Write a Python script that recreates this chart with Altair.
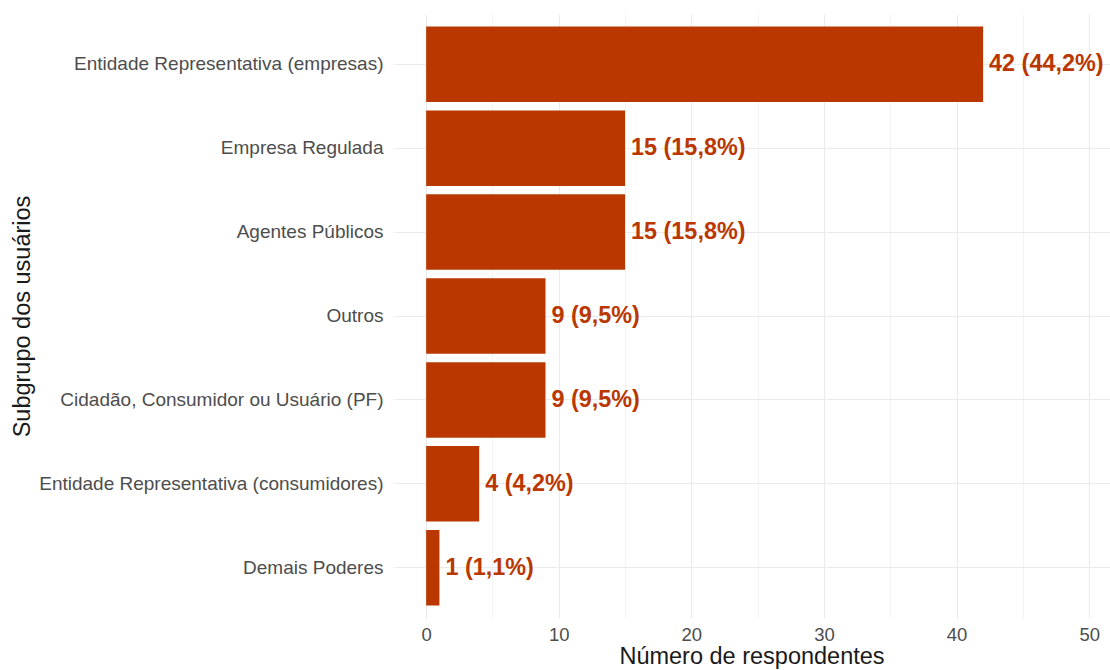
import altair as alt
import pandas as pd

# Respondents per user subgroup
subgroups = [
    "Entidade Representativa (empresas)",
    "Empresa Regulada",
    "Agentes Públicos",
    "Outros",
    "Cidadão, Consumidor ou Usuário (PF)",
    "Entidade Representativa (consumidores)",
    "Demais Poderes",
]
counts = [42, 15, 15, 9, 9, 4, 1]
shares = ["44,2%", "15,8%", "15,8%", "9,5%", "9,5%", "4,2%", "1,1%"]

df = pd.DataFrame({"subgrupo": subgroups, "n": counts, "pct": shares})
df["rotulo"] = df["n"].astype(str) + " (" + df["pct"] + ")"

BAR = "#BA3700"
FONT = "Liberation Sans"

x_enc = alt.X(
    "n:Q",
    title="Número de respondentes",
    scale=alt.Scale(domain=[-2.5, 51.57], nice=False, zero=False),
    axis=alt.Axis(
        values=[0, 5, 10, 15, 20, 25, 30, 35, 40, 45, 50],
        labelExpr="datum.value % 10 == 0 ? datum.label : ''",
        gridWidth={"condition": {"test": "datum.value % 10 != 0", "value": 0.6}, "value": 1.1},
        gridColor="#EBEBEB",
        ticks=False,
        domain=False,
        labelFontSize=18.5,
        labelColor="#4D4D4D",
        labelPadding=7,
        titleFontSize=23.5,
        titleFontWeight="normal",
        titleColor="#1A1A1A",
        titlePadding=1,
    ),
)
y_enc = alt.Y(
    "subgrupo:N",
    sort=subgroups,
    title="Subgrupo dos usuários",
    scale=alt.Scale(paddingInner=0.1, paddingOuter=0.15),
    axis=alt.Axis(
        ticks=False,
        domain=False,
        grid=True,
        bandPosition=0.5,
        gridColor="#EBEBEB",
        gridWidth=1.1,
        labelFontSize=19,
        labelColor="#4D4D4D",
        labelPadding=10,
        labelLimit=400,
        titleFontSize=23.5,
        titleFontWeight="normal",
        titleColor="#1A1A1A",
        titleAngle=270,
        titleAlign="center",
        titleBaseline="middle",
        titleX=-371,
        titleY=302,
    ),
)

bars = alt.Chart(df).mark_bar(color=BAR).encode(x=x_enc, y=y_enc, x2=alt.datum(0))

labels = alt.Chart(df).mark_text(
    align="left", baseline="middle", dx=6, fontSize=23.4, fontWeight="bold", color=BAR, font=FONT
).encode(x=alt.X("n:Q"), y=alt.Y("subgrupo:N", sort=subgroups), text="rotulo:N")

chart = (
    alt.layer(bars, labels)
    .properties(
        width=717,
        height=604,
        autosize=alt.AutoSizeParams(type="none"),
        padding={"left": 393, "top": 14, "right": 0, "bottom": 52},
    )
    .configure(font=FONT)
    .configure_view(stroke=None)
)

chart.save("out.html", embed_options={"renderer": "svg", "actions": False})
